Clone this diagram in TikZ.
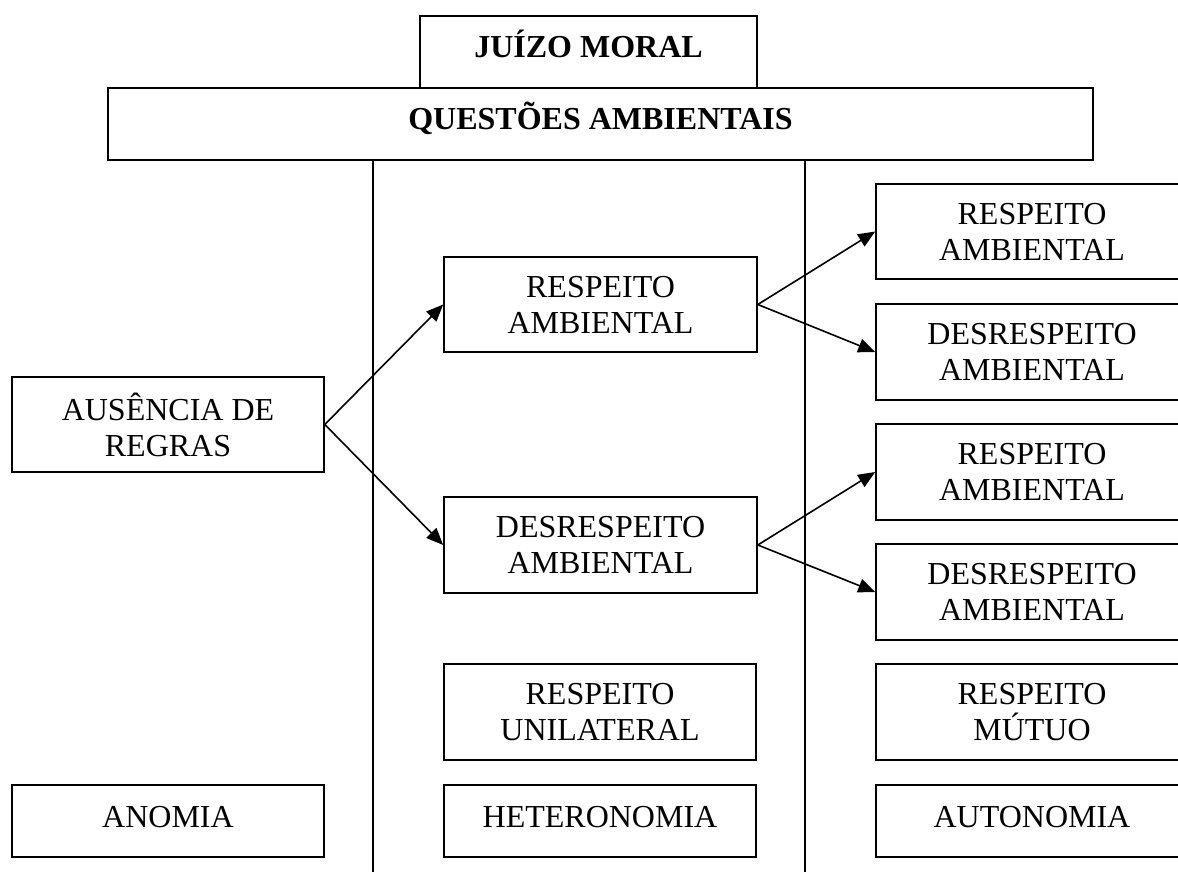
\documentclass[tikz,border=0pt]{standalone}
\usepackage{fontspec}
\setmainfont{Liberation Serif}
\usetikzlibrary{arrows.meta,calc}
\begin{document}
\begin{tikzpicture}[x=1pt,y=-1pt,
  box/.style={draw=black,line width=1.6pt,rectangle,inner sep=0pt,align=center,
    font=\fontsize{32}{36}\selectfont,minimum width=312pt},
  one/.style={box,minimum height=72pt,text height=22pt,text depth=10pt},
  two/.style={box,minimum height=96pt},
  bold/.style={font=\fontsize{32}{36}\selectfont\bfseries},
  arr/.style={line width=1.6pt,-{Triangle[length=17pt,width=14pt]}},
  vline/.style={line width=1.6pt}]
\useasboundingbox (0,0) rectangle (1178,872);
\clip (0,0) rectangle (1178,872);
% headers
\node[one,bold,minimum width=337pt] (jm) at (588.5,52) {JUÍZO MORAL};
\node[one,bold,minimum width=985pt] (qa) at (600.5,124) {QUESTÕES AMBIENTAIS};
% vertical separators
\coordinate (v1) at (373,872);
\coordinate (v2) at (805,872);
\draw[vline] (qa.south -| v1) -- (v1);
\draw[vline] (qa.south -| v2) -- (v2);
% left column
\node[two,minimum height=95pt] (aus) at (168,424.5) {AUSÊNCIA DE\\REGRAS};
\node[one] (anom) at (168,821) {ANOMIA};
% middle column
\node[two,minimum height=95pt,minimum width=313pt] (m1) at (600.5,304.5) {RESPEITO\\AMBIENTAL};
\node[two,minimum width=313pt] (m2) at (600.5,545) {DESRESPEITO\\AMBIENTAL};
\node[two] (runi) at (600,712) {RESPEITO\\UNILATERAL};
\node[one] (het) at (600,821) {HETERONOMIA};
% right column
\node[two,minimum height=95pt] (r1) at (1032,231.5) {RESPEITO\\AMBIENTAL};
\node[two] (r2) at (1032,352) {DESRESPEITO\\AMBIENTAL};
\node[two] (r3) at (1032,472) {RESPEITO\\AMBIENTAL};
\node[two] (r4) at (1032,592) {DESRESPEITO\\AMBIENTAL};
\node[two] (mut) at (1032,712) {RESPEITO\\MÚTUO};
\node[one] (aut) at (1032,821) {AUTONOMIA};
% arrows
\draw[arr] (aus.east) -- (m1.west);
\draw[arr] (aus.east) -- (m2.west);
\draw[arr] (m1.east) -- (r1.west);
\draw[arr] (m1.east) -- (r2.west);
\draw[arr] (m2.east) -- (r3.west);
\draw[arr] (m2.east) -- (r4.west);
\end{tikzpicture}
\end{document}
